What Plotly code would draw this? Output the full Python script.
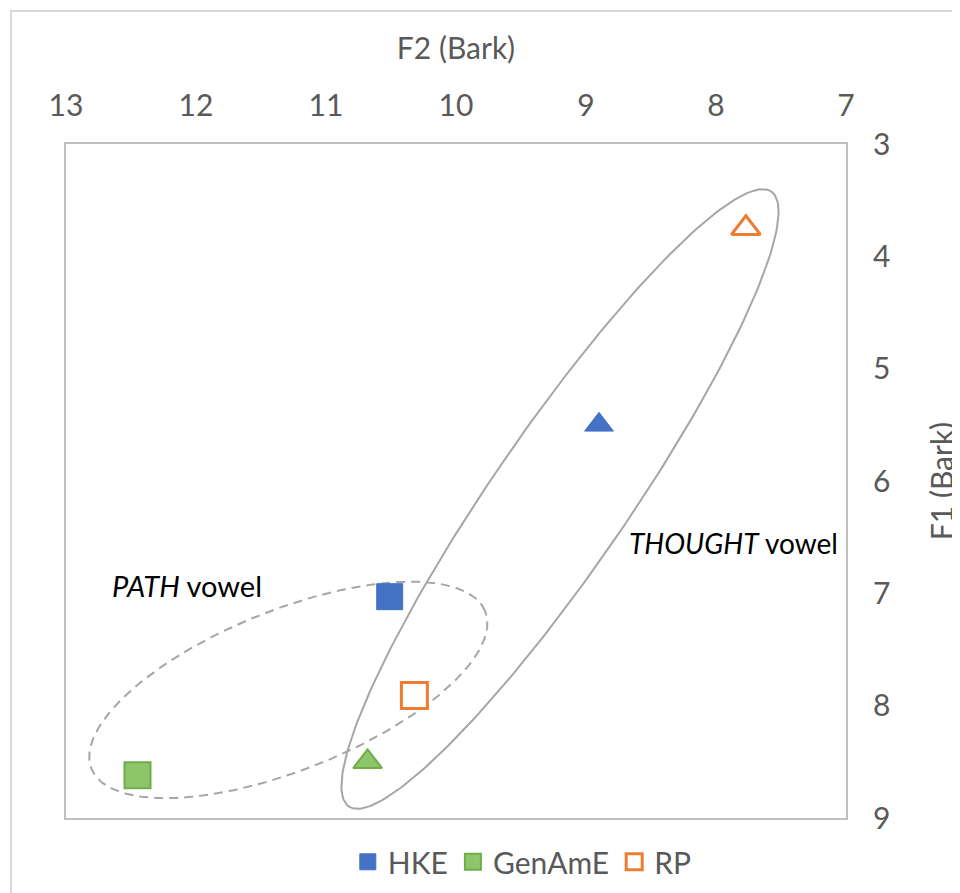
import numpy as np
import plotly.graph_objects as go

# ---- data (Bark) ----
vowels = ["PATH", "THOUGHT"]
series = ["HKE", "GenAmE", "RP"]
hke_f2 = [10.51, 8.90]
hke_f1 = [7.03, 5.50]
genam_f2 = [12.45, 10.68]
genam_f1 = [8.62, 8.50]
rp_f2 = [10.32, 7.77]
rp_f1 = [7.91, 3.75]

x_range = [13, 7]
y_range = [9, 3]
x_ticks = [13, 12, 11, 10, 9, 8, 7]
y_ticks = [3, 4, 5, 6, 7, 8, 9]

# vowel-group ellipses: centre (F2, F1), semi-axes in px, angle in degrees
path_ell = dict(cf2=11.29, cf1=7.86, a=212, b=80, ang=21.8)
thought_ell = dict(cf2=9.20, cf1=6.16, a=373, b=68, ang=55.5)

W, H = 952, 885
M = dict(l=58, r=114, t=136, b=75)
plot_w = W - M["l"] - M["r"]
plot_h = H - M["t"] - M["b"]
px_x = plot_w / abs(x_range[0] - x_range[1])
px_y = plot_h / abs(y_range[0] - y_range[1])

FONT = "Lato, 'Open Sans', sans-serif"
GREY = "#595959"


def ellipse(e, n=240):
    t = np.linspace(0, 2 * np.pi, n)
    th = np.radians(e["ang"])
    ux = e["a"] * np.cos(t) * np.cos(th) - e["b"] * np.sin(t) * np.sin(th)
    uy = -(e["a"] * np.cos(t) * np.sin(th) + e["b"] * np.sin(t) * np.cos(th))
    return e["cf2"] - ux / px_x, e["cf1"] + uy / px_y


fig = go.Figure()

ex, ey = ellipse(path_ell)
fig.add_trace(go.Scatter(x=ex, y=ey, mode="lines", showlegend=False, hoverinfo="skip",
                         line=dict(color="#A6A6A6", width=2, dash="9px,6px")))
ex, ey = ellipse(thought_ell)
fig.add_trace(go.Scatter(x=ex, y=ey, mode="lines", showlegend=False, hoverinfo="skip",
                         line=dict(color="#A6A6A6", width=2)))

symbols = ["square", "triangle-up"]
sizes = [26, 25]
fig.add_trace(go.Scatter(x=hke_f2, y=hke_f1, mode="markers", name="HKE", text=vowels,
                         marker=dict(symbol=symbols, size=sizes, color="#4472C4", opacity=1,
                                     line=dict(color="#4472C4", width=1))))
fig.add_trace(go.Scatter(x=genam_f2, y=genam_f1, mode="markers", name="GenAmE", text=vowels,
                         marker=dict(symbol=symbols, size=sizes, color="#8CC56A", opacity=1,
                                     line=dict(color="#70AD47", width=2))))
fig.add_trace(go.Scatter(x=rp_f2, y=rp_f1, mode="markers", name="RP", text=vowels,
                         marker=dict(symbol=symbols, size=sizes, color="white", opacity=1,
                                     line=dict(color="#ED7D31", width=3))))

fig.add_annotation(x=12.07, y=6.93, xref="x", yref="y", text="<i>PATH</i> vowel",
                   showarrow=False, font=dict(family=FONT, size=29, color="black"))
fig.add_annotation(x=7.865, y=6.55, xref="x", yref="y", text="<i>THOUGHT</i> vowel",
                   showarrow=False, font=dict(family=FONT, size=28, color="black"))

# outer chart border
fig.add_shape(type="rect", xref="paper", yref="paper",
              x0=(3 - M["l"]) / plot_w, x1=1.6, y0=-0.5, y1=1 + (M["t"] - 3) / plot_h,
              line=dict(color="#D9D9D9", width=2), fillcolor="rgba(0,0,0,0)", layer="below")

axis_common = dict(showgrid=False, zeroline=False, showline=True, mirror=True,
                   linecolor="#BFBFBF", linewidth=2, ticks="", automargin=False,
                   tickfont=dict(family=FONT, size=30, color=GREY))
fig.update_xaxes(range=x_range, side="top", tickvals=x_ticks, ticklabelstandoff=14,
                 title=dict(text="F2 (Bark)", standoff=18, font=dict(family=FONT, size=30, color=GREY)),
                 **axis_common)
fig.update_yaxes(range=y_range, side="right", tickvals=y_ticks, ticklabelstandoff=19,
                 title=dict(text="F1 (Bark)", standoff=43, font=dict(family=FONT, size=30, color=GREY)),
                 **axis_common)

fig.update_layout(width=W, height=H, margin=dict(M, autoexpand=False),
                  plot_bgcolor="white", paper_bgcolor="white",
                  font=dict(family=FONT, color=GREY),
                  legend=dict(orientation="h", x=0.585, xanchor="center", y=-0.065, yanchor="middle",
                              font=dict(family=FONT, size=30, color=GREY)))

fig.write_html("out.html")
